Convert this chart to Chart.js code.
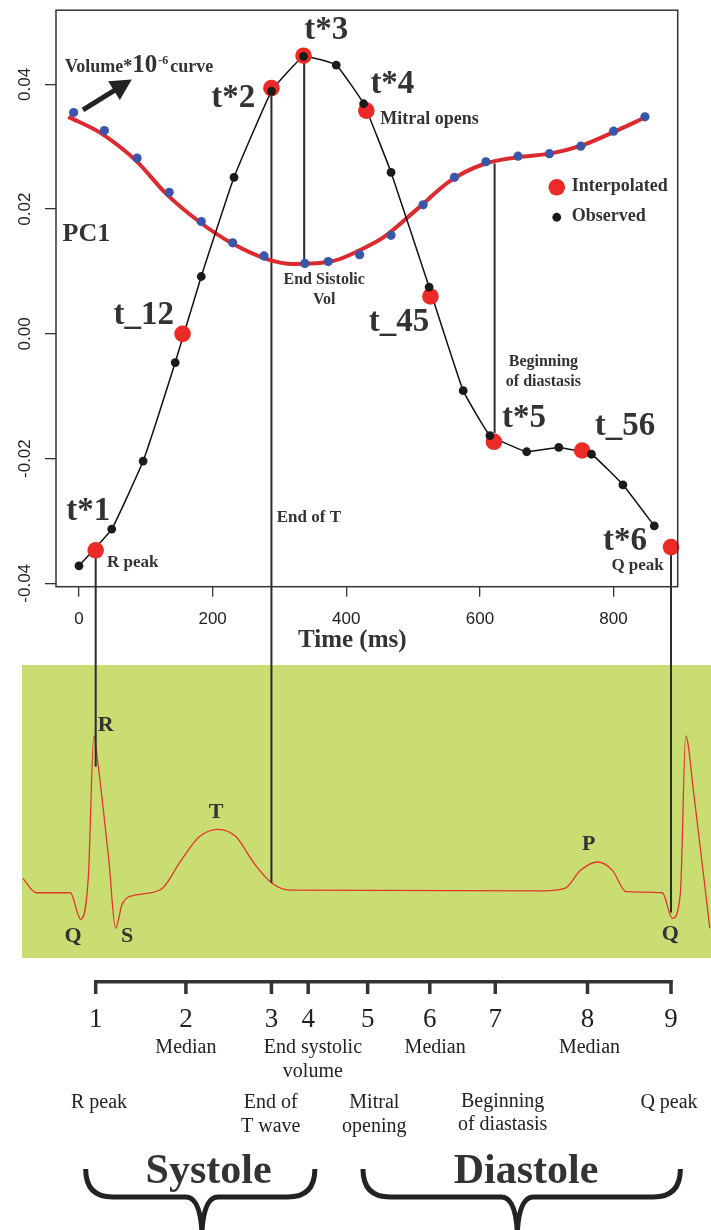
<!DOCTYPE html>
<html>
<head>
<meta charset="utf-8">
<script src="https://cdn.jsdelivr.net/npm/chart.js@4.4.1/dist/chart.umd.min.js"></script>
<style>
html, body { margin: 0; padding: 0; background: #fff; }
#wrap { position: relative; width: 711px; height: 1230px; overflow: hidden; }
canvas { position: absolute; left: 0; top: 0; }
#ecg { z-index: 1; }
#pc { z-index: 2; }
</style>
</head>
<body>
<div id="wrap">
  <canvas id="ecg" width="711" height="1230"></canvas>
  <canvas id="pc" width="711" height="1230"></canvas>
</div>
<script>
// PC1 observed values (time in ms)
const obsT = [0, 49, 96, 144, 183, 232, 288, 336, 385, 426, 467, 524, 575, 615, 670, 718, 767, 814, 861];
const obsV = [-0.0372, -0.0313, -0.0204, -0.0046, 0.0092, 0.0251, 0.0389, 0.0445, 0.0431, 0.0369, 0.0259, 0.0075, -0.0091, -0.0163, -0.0189, -0.0182, -0.0193, -0.0242, -0.0308];

// interpolated landmarks
const interpNames = ['t*1', 't_12', 't*2', 't*3', 't*4', 't_45', 't*5', 't_56', 't*6'];
const interpT = [25, 155, 288, 336, 430, 526, 621, 753, 886];
const interpV = [-0.0347, 0.0, 0.0394, 0.0446, 0.0358, 0.0060, -0.0173, -0.0187, -0.0342];

// volume*10^-6 samples (blue) and fitted curve (red)
const volT = [-8, 38, 87, 135, 183, 230, 277, 338, 373, 420, 467, 515, 562, 609, 657, 704, 751, 800, 847];
const volV = [0.0355, 0.0326, 0.0282, 0.0227, 0.0180, 0.0146, 0.0125, 0.0113, 0.0116, 0.0127, 0.0158, 0.0207, 0.0251, 0.0276, 0.0285, 0.0289, 0.0301, 0.0325, 0.0348];
const fitT = [-16, 31, 86, 131, 181, 231, 281, 321, 381, 418, 456, 506, 555, 605, 655, 705, 755, 805, 847];
const fitV = [0.0348, 0.0323, 0.0277, 0.0224, 0.0179, 0.0144, 0.0120, 0.0112, 0.0117, 0.0133, 0.0155, 0.0200, 0.0245, 0.0272, 0.0283, 0.0289, 0.0303, 0.0326, 0.0347];

const xTicks = [0, 200, 400, 600, 800];
const yTicks = [-0.04, -0.02, 0.00, 0.02, 0.04];

// ECG trace (ms, mV-ish)
const ecgT = [-84, -64, -13, 2.5, 14, 22.3, 27.7, 44.6, 54.8, 65, 85, 123, 153, 180, 208, 235, 262, 289, 316, 696, 727, 751, 776, 798, 819, 873, 888, 900, 908, 920, 944];
const ecgA = [0.096, 0, 0, -0.177, 0.107, 1.045, 0.885, 0.218, -0.237, -0.071, -0.015, 0.023, 0.218, 0.373, 0.423, 0.373, 0.196, 0.063, 0.018, 0.013, 0.029, 0.151, 0.205, 0.151, 0.007, 0, -0.171, -0.004, 1.045, 0.663, -0.237];
const ecgWaves = ['R', 'T', 'P', 'Q', 'S', 'Q'];
const ecgWaveT = [40, 205, 763, -9, 72, 885];
const ecgWaveA = [1.118, 0.537, 0.325, -0.289, -0.289, -0.276];

// vertical guide lines: time, from value, to value (PC1 axis units)
const guideT = [25, 288, 337, 622, 886];
const guideFrom = [-0.0347, 0.0394, 0.0446, 0.0273, -0.0342];
const guideTo = [-0.0694, -0.0880, 0.0113, -0.0159, -0.0928];

// timeline stages
const stageNums = ['1', '2', '3', '4', '5', '6', '7', '8', '9'];
const stageT = [25, 160, 288, 343, 432, 525, 623, 761, 886];
const phaseNames = ['Systole', 'Diastole'];
const phaseStart = [10, 425];
const phaseMid = [184, 656];
const phaseEnd = [353, 900];
const phaseLabelT = [194, 669];

const SERIF = '"Liberation Serif", "Times New Roman", serif';
const INK = '#333';

function pts(xs, ys) { return xs.map((x, i) => ({ x: x, y: ys[i] })); }

function text(ctx, s, x, y, font, align) {
  ctx.font = font;
  ctx.textAlign = align || 'center';
  ctx.textBaseline = 'middle';
  ctx.fillText(s, x, y);
}

// labels on the PC1 plot: text, time, value, font, align
const big = 'bold 33px ' + SERIF;
const small = 'bold 17px ' + SERIF;
const notes = [
  ['t*1', 14, -0.0284, big], ['t_12', 97, 0.0029, big], ['t*2', 231, 0.0377, big],
  ['t*3', 370, 0.0486, big], ['t*4', 469, 0.0400, big], ['t_45', 479, 0.0018, big],
  ['t*5', 666, -0.0136, big], ['t_56', 817, -0.0148, big], ['t*6', 817, -0.0333, big],
  ['R peak', 42, -0.0366, small, 'left'], ['Mitral opens', 451, 0.0344, 'bold 18px ' + SERIF, 'left'],
  ['PC1', 11, 0.0160, 'bold 26px ' + SERIF], ['End Sistolic', 367, 0.0086, 'bold 16px ' + SERIF],
  ['Vol', 367, 0.0055, 'bold 16px ' + SERIF], ['Beginning', 695, -0.0045, 'bold 16px ' + SERIF],
  ['of diastasis', 695, -0.0077, 'bold 16px ' + SERIF], ['Q peak', 836, -0.0371, small],
  ['End of T', 296, -0.0295, small, 'left'], ['Time (ms)', 409, -0.0491, 'bold 25px ' + SERIF]
];

const pcDecor = {
  id: 'pcDecor',
  beforeDatasetsDraw(chart) {
    const { ctx, scales: { x, y } } = chart;
    ctx.save();
    ctx.strokeStyle = '#2b2b2b';
    ctx.lineWidth = 2;
    guideT.forEach((t, i) => {
      const px = x.getPixelForValue(t);
      ctx.beginPath();
      ctx.moveTo(px, y.getPixelForValue(guideFrom[i]));
      ctx.lineTo(px, y.getPixelForValue(guideTo[i]));
      ctx.stroke();
    });
    ctx.restore();
  },
  afterDraw(chart) {
    const { ctx, chartArea: a, scales: { x, y } } = chart;
    ctx.save();
    ctx.strokeStyle = INK;
    ctx.lineWidth = 1.5;
    ctx.strokeRect(a.left, a.top, a.right - a.left, a.bottom - a.top);

    // rotated y tick labels
    ctx.fillStyle = '#222';
    yTicks.forEach(v => {
      ctx.save();
      ctx.translate(25, y.getPixelForValue(v));
      ctx.rotate(-Math.PI / 2);
      text(ctx, v.toFixed(2), 0, 0, '17px "Liberation Sans", Arial, sans-serif');
      ctx.restore();
    });

    ctx.fillStyle = INK;
    notes.forEach(n => text(ctx, n[0], x.getPixelForValue(n[1]), y.getPixelForValue(n[2]), n[3], n[4]));

    // legend
    const lx = x.getPixelForValue(715);
    ctx.fillStyle = '#ec2a27';
    ctx.beginPath(); ctx.arc(lx, y.getPixelForValue(0.0235), 8.3, 0, Math.PI * 2); ctx.fill();
    ctx.fillStyle = '#1a1a1a';
    ctx.beginPath(); ctx.arc(lx, y.getPixelForValue(0.0187), 4.4, 0, Math.PI * 2); ctx.fill();
    ctx.fillStyle = INK;
    text(ctx, 'Interpolated', lx + 15, y.getPixelForValue(0.0236), 'bold 18px ' + SERIF, 'left');
    text(ctx, 'Observed', lx + 15, y.getPixelForValue(0.0188), 'bold 18px ' + SERIF, 'left');

    // "Volume*10^-6 curve" label
    let cx = x.getPixelForValue(-21);
    const by = y.getPixelForValue(0.0420);
    ctx.textAlign = 'left';
    ctx.textBaseline = 'alphabetic';
    ctx.font = 'bold 18px ' + SERIF; ctx.fillText('Volume*', cx, by); cx += ctx.measureText('Volume*').width;
    ctx.font = 'bold 25px ' + SERIF; ctx.fillText('10', cx, by); cx += ctx.measureText('10').width;
    ctx.font = 'bold 12px ' + SERIF; ctx.fillText('-6', cx + 1, by - 8); cx += ctx.measureText('-6').width + 3;
    ctx.font = 'bold 18px ' + SERIF; ctx.fillText('curve', cx, by);

    // arrow
    const x0 = x.getPixelForValue(6), y0 = y.getPixelForValue(0.0359);
    const x1 = x.getPixelForValue(79), y1 = y.getPixelForValue(0.0408);
    const dx = x1 - x0, dy = y1 - y0, len = Math.hypot(dx, dy);
    const ux = dx / len, uy = dy / len;
    const bx = x1 - ux * 21, byy = y1 - uy * 21;
    ctx.strokeStyle = '#222';
    ctx.fillStyle = '#222';
    ctx.lineWidth = 5;
    ctx.beginPath(); ctx.moveTo(x0, y0); ctx.lineTo(bx + ux * 2, byy + uy * 2); ctx.stroke();
    ctx.beginPath();
    ctx.moveTo(x1, y1);
    ctx.lineTo(bx - uy * 11, byy + ux * 11);
    ctx.lineTo(bx + uy * 11, byy - ux * 11);
    ctx.closePath();
    ctx.fill();
    ctx.restore();
  }
};

const pcChart = new Chart(document.getElementById('pc'), {
  type: 'scatter',
  data: {
    datasets: [
      { label: 'Volume curve', data: pts(fitT, fitV), showLine: true, borderColor: '#dc2a2f', borderWidth: 4,
        pointRadius: 0, cubicInterpolationMode: 'monotone', order: 6, clip: false },
      { label: 'Volume', data: pts(volT, volV), pointRadius: 4.6, pointBackgroundColor: '#3a56a8',
        pointBorderWidth: 0, order: 5, clip: false },
      { label: 'PC1', data: pts(obsT, obsV), showLine: true, borderColor: '#111', borderWidth: 1.5,
        pointRadius: 0, tension: 0.1, order: 4, clip: false },
      { label: 'Interpolated', data: pts(interpT, interpV), pointRadius: 8.3, pointBackgroundColor: '#ec2a27',
        pointBorderWidth: 0, order: 3, clip: false },
      { label: 'Observed', data: pts(obsT, obsV), pointRadius: 4.4, pointBackgroundColor: '#1a1a1a',
        pointBorderWidth: 0, order: 2, clip: false }
    ]
  },
  options: {
    responsive: false,
    animation: false,
    devicePixelRatio: 1,
    layout: { padding: { left: 0, top: 9, right: 33.3, bottom: 573.3 } },
    plugins: { legend: { display: false }, tooltip: { enabled: false } },
    scales: {
      x: {
        type: 'linear', min: -34.4, max: 896,
        afterBuildTicks: s => { s.ticks = xTicks.map(v => ({ value: v })); },
        afterFit: s => { s.height = 70; },
        grid: { drawOnChartArea: false, color: INK, lineWidth: 1.3, tickLength: 10 },
        border: { display: false },
        ticks: { color: '#222', font: { family: 'Liberation Sans', size: 17 }, padding: 12, maxRotation: 0, autoSkip: false }
      },
      y: {
        min: -0.04054, max: 0.0519,
        afterBuildTicks: s => { s.ticks = yTicks.map(v => ({ value: v })); },
        afterFit: s => { s.width = 56; },
        grid: { drawOnChartArea: false, color: INK, lineWidth: 1.3, tickLength: 11 },
        border: { display: false },
        ticks: { color: 'rgba(0,0,0,0)' }
      }
    }
  },
  plugins: [pcDecor]
});

// timeline notes: text, time, row y
const stageNotes = [
  ['Median', 160, 1048], ['End systolic', 350, 1048], ['volume', 350, 1072], ['Median', 533, 1048],
  ['Median', 764, 1048], ['R peak', 30, 1103], ['End of', 287, 1103], ['T wave', 287, 1127],
  ['Mitral', 442, 1103], ['opening', 442, 1127], ['Beginning', 634, 1102], ['of diastasis', 634, 1125],
  ['Q peak', 883, 1103]
];

function brace(ctx, x0, xm, x1, yTop, yBar, yTip) {
  const r = 27;
  ctx.beginPath();
  ctx.moveTo(x0, yTop);
  ctx.quadraticCurveTo(x0, yBar, x0 + r, yBar);
  ctx.lineTo(xm - 16, yBar);
  ctx.quadraticCurveTo(xm - 2, yBar, xm, yTip);
  ctx.quadraticCurveTo(xm + 2, yBar, xm + 16, yBar);
  ctx.lineTo(x1 - r, yBar);
  ctx.quadraticCurveTo(x1, yBar, x1, yTop);
  ctx.stroke();
}

const ecgDecor = {
  id: 'ecgDecor',
  beforeDatasetsDraw(chart) {
    const { ctx, chartArea: a } = chart;
    ctx.save();
    ctx.fillStyle = '#c9dd73';
    ctx.fillRect(a.left, a.top, a.right - a.left, a.bottom - a.top);
    ctx.restore();
  },
  afterDraw(chart) {
    const { ctx, scales: { x, y } } = chart;
    ctx.save();
    ctx.fillStyle = INK;
    ecgWaves.forEach((w, i) => text(ctx, w, x.getPixelForValue(ecgWaveT[i]), y.getPixelForValue(ecgWaveA[i]), 'bold 22px ' + SERIF));

    // timeline
    const xs = stageT.map(t => x.getPixelForValue(t));
    ctx.strokeStyle = INK;
    ctx.lineWidth = 3.5;
    ctx.beginPath();
    ctx.moveTo(xs[0] - 1.5, 981.7);
    ctx.lineTo(xs[xs.length - 1] + 1.5, 981.7);
    ctx.stroke();
    xs.forEach(px => {
      ctx.beginPath(); ctx.moveTo(px, 980); ctx.lineTo(px, 994); ctx.stroke();
    });
    ctx.fillStyle = '#222';
    stageNums.forEach((s, i) => text(ctx, s, xs[i], 1020, '27px ' + SERIF));
    stageNotes.forEach(n => text(ctx, n[0], x.getPixelForValue(n[1]), n[2], '20px ' + SERIF));

    // phase braces
    ctx.strokeStyle = '#222';
    ctx.lineWidth = 5;
    ctx.lineJoin = 'round';
    phaseNames.forEach((p, i) => {
      brace(ctx, x.getPixelForValue(phaseStart[i]), x.getPixelForValue(phaseMid[i]), x.getPixelForValue(phaseEnd[i]), 1169, 1197, 1232);
      ctx.fillStyle = INK;
      text(ctx, p, x.getPixelForValue(phaseLabelT[i]), 1172, 'bold 42px ' + SERIF);
    });
    ctx.restore();
  }
};

const xA = pcChart.scales.x;
new Chart(document.getElementById('ecg'), {
  type: 'scatter',
  data: {
    datasets: [{ label: 'ECG', data: pts(ecgT, ecgA), showLine: true, borderColor: '#e2362c', borderWidth: 1.3,
      pointRadius: 0, cubicInterpolationMode: 'monotone' }]
  },
  options: {
    responsive: false,
    animation: false,
    devicePixelRatio: 1,
    layout: { padding: { left: 22, top: 665, right: 0, bottom: 272 } },
    plugins: { legend: { display: false }, tooltip: { enabled: false } },
    scales: {
      x: { type: 'linear', display: false, min: xA.getValueForPixel(22), max: xA.getValueForPixel(711) },
      y: { display: false, min: -0.435, max: 1.518 }
    }
  },
  plugins: [ecgDecor]
});
</script>
</body>
</html>
